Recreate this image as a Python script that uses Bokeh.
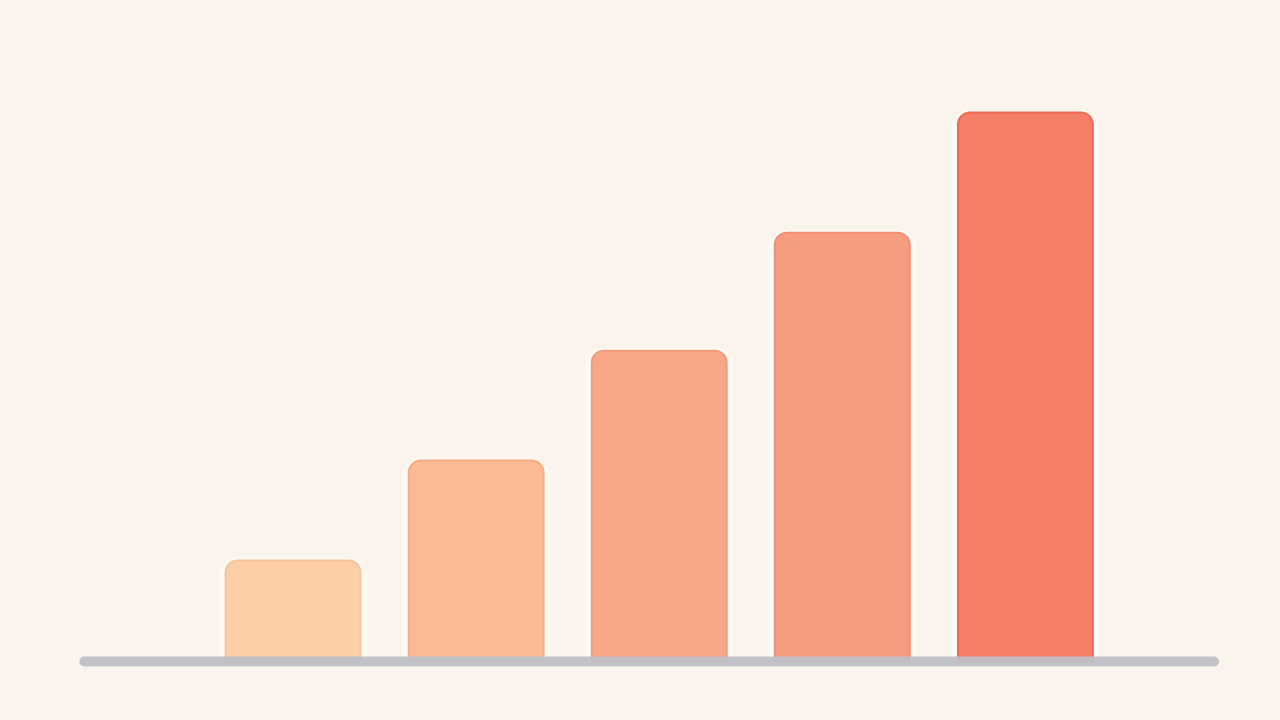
from bokeh.plotting import figure
from bokeh.models import Range1d, ColumnDataSource
from bokeh.embed import file_html
from bokeh.resources import INLINE

categories = ["A", "B", "C", "D", "E"]
values = [18.4, 36.6, 56.6, 78.1, 100]
fills = ["#FDCFA9", "#FBB994", "#F9A887", "#F69D81", "#F57E68"]
edges = ["#F8C39B", "#F6AC88", "#F39B7B", "#EF8E74", "#EE6A55"]
BG = "#FBF4EC"

xs = list(range(len(categories)))
src = ColumnDataSource(dict(x=xs, top=values, fill=fills, edge=edges))

p = figure(width=1264, height=704, output_backend="svg", toolbar_location=None,
           x_range=Range1d(-1.598, 5.306), y_range=Range1d(-7.83, 120.4),
           min_border=0, background_fill_color=BG, border_fill_color=BG,
           outline_line_color=None)
p.axis.visible = False
p.grid.visible = False

# soft halo
p.vbar(x="x", top="top", bottom=0, width=0.78, source=src,
       fill_color="white", fill_alpha=0.55, line_color="white", line_alpha=0.35,
       line_width=6, border_radius=(16, 16, 0, 0))
p.vbar(x="x", top="top", bottom=0, width=0.737, source=src,
       fill_color="fill", line_color="edge", line_width=2,
       border_radius=(12, 12, 0, 0))

# baseline
p.segment(x0=[xs[0] - 1.14], x1=[xs[-1] + 1.03], y0=[0], y1=[0],
          line_color="#BEC0C6", line_width=10, line_cap="round", line_alpha=0.95)

html = file_html(p, INLINE)
html = html.replace("</head>", "<style>body{background:%s;}</style></head>" % BG, 1)
open("out.html", "w").write(html)
